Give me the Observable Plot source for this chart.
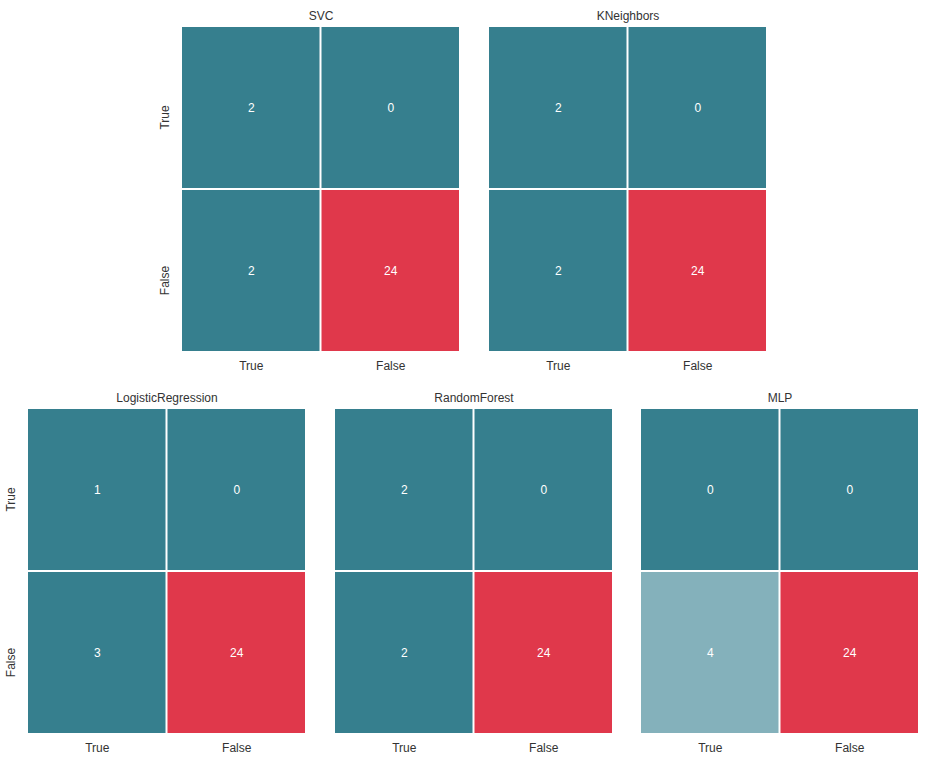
<!DOCTYPE html>
<html><head><meta charset="utf-8">
<script src="https://cdn.jsdelivr.net/npm/d3@7"></script>
<script src="https://cdn.jsdelivr.net/npm/@observablehq/plot@0.6"></script>
<style>
body{margin:0;background:#fff;}
#chart{position:relative;width:931px;height:765px;overflow:hidden;}
#chart svg{position:absolute;}
</style></head>
<body><div id="chart"></div>
<script>
// ---- data ----
const labels = ["True", "False"];
const models = ["SVC", "KNeighbors", "LogisticRegression", "RandomForest", "MLP"];
// row-major confusion values: [True/True, True/False, False/True, False/False]
const svcValues = [2, 0, 2, 24];
const kneighborsValues = [2, 0, 2, 24];
const logisticValues = [1, 0, 3, 24];
const randomForestValues = [2, 0, 2, 24];
const mlpValues = [0, 0, 4, 24];
const valueSets = [svcValues, kneighborsValues, logisticValues, randomForestValues, mlpValues];
const palette = ["#367f8e", "#84b1bb", "#c4d8dd", "#f2f2f2", "#f2c3c8", "#e98591", "#e0384b"];

// ---- layout ----
const FW = 277, FH = 324, ML = 28, MT = 27, MB = 30;
const FS = 12, INK = "#333333";
const frames = [[182, 27, true], [489, 27, false], [28, 409, true], [335, 409, false], [641, 409, false]];
const thresholds = d3.range(1, 7).map(i => i * 24 / 7);

function panel(title, values, showY) {
  const cells = values.map((v, i) => ({actual: labels[Math.floor(i / 2)], predicted: labels[i % 2], value: v}));
  const marks = [
    Plot.cell(cells, {x: "predicted", y: "actual", fill: "value"}),
    Plot.text(cells, {x: "predicted", y: "actual", text: d => String(d.value), fill: "white", fontSize: FS, lineAnchor: "middle"}),
    Plot.text(labels, {x: d => d, frameAnchor: "bottom", lineAnchor: "middle", dy: 15, text: d => d, fill: INK, fontSize: FS}),
    Plot.text([title], {frameAnchor: "top", lineAnchor: "middle", dy: -11, text: d => d, fill: INK, fontSize: FS})
  ];
  if (showY) marks.push(Plot.text(labels, {y: d => d, frameAnchor: "left", textAnchor: "middle", lineAnchor: "middle", dx: -17.5, dy: 9.5, rotate: -90, text: d => d, fill: INK, fontSize: FS}));
  return Plot.plot({
    width: FW + ML, height: FH + MT + MB,
    marginLeft: ML, marginRight: 0, marginTop: MT, marginBottom: MB,
    style: {fontFamily: '"Liberation Sans", Arial, sans-serif', fontSize: FS + "px", background: "white", overflow: "visible"},
    x: {domain: labels, paddingInner: 2 / 139.5, paddingOuter: 0, round: false, axis: null},
    y: {domain: labels, paddingInner: 2 / 163, paddingOuter: 0, round: false, axis: null},
    color: {type: "threshold", domain: thresholds, range: palette},
    marks
  });
}

const chart = document.getElementById("chart");
models.forEach((m, i) => {
  const [fx, fy, showY] = frames[i];
  const svg = panel(m, valueSets[i], showY);
  svg.style.left = (fx - ML) + "px";
  svg.style.top = (fy - MT) + "px";
  chart.appendChild(svg);
});
</script>
</body></html>
